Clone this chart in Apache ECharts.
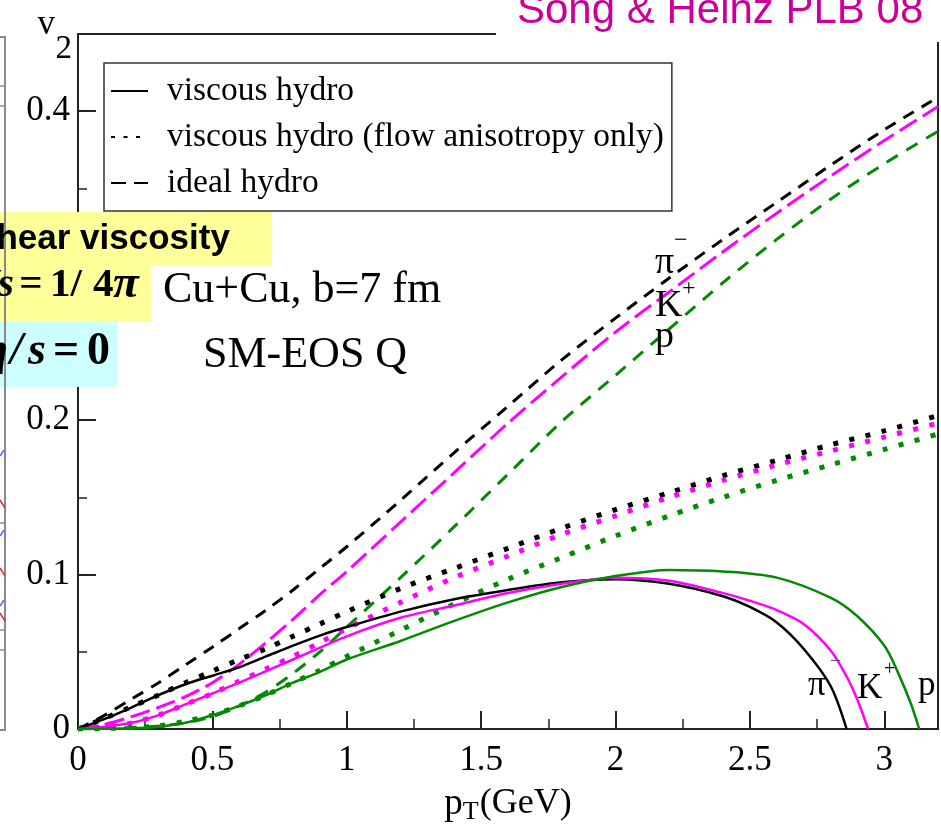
<!DOCTYPE html>
<html>
<head>
<meta charset="utf-8">
<script src="https://cdn.jsdelivr.net/npm/echarts@6/dist/echarts.min.js"></script>
<style>
  html, body { margin: 0; padding: 0; background: #fff; }
  #chart { width: 941px; height: 836px; }
</style>
</head>
<body>
<div id="chart"></div>
<script>
// Elliptic flow v2(pT) of identified hadrons, Cu+Cu at b = 7 fm, EOS Q.
// Three species (pi-, K+, p), each with ideal hydro, viscous hydro and
// viscous hydro keeping only the flow anisotropy.

// pT grid (GeV) shared by the ideal and flow-anisotropy-only curves
const ptGrid = [0, 0.1, 0.2, 0.3, 0.4, 0.5, 0.6, 0.7, 0.8, 0.9, 1.0, 1.2, 1.4, 1.6, 1.8, 2.0, 2.2, 2.4, 2.6, 2.8, 3.0, 3.2];

// ideal hydro
const idealPion   = [0, 0.009, 0.0195, 0.030, 0.0415, 0.053, 0.065, 0.077, 0.090, 0.104, 0.118, 0.148, 0.179, 0.209, 0.239, 0.266, 0.292, 0.317, 0.341, 0.365, 0.388, 0.409];
const idealKaon   = [0, 0.003, 0.008, 0.014, 0.021, 0.030, 0.042, 0.056, 0.071, 0.087, 0.102, 0.134, 0.166, 0.198, 0.228, 0.257, 0.283, 0.309, 0.334, 0.358, 0.381, 0.403];
const idealProton = [0, 0.0003, 0.001, 0.002, 0.004, 0.008, 0.015, 0.024, 0.036, 0.050, 0.066, 0.098, 0.131, 0.165, 0.199, 0.229, 0.259, 0.289, 0.317, 0.343, 0.366, 0.387];

// viscous hydro, flow anisotropy only
const flowPion   = [0, 0.007, 0.0145, 0.022, 0.030, 0.0375, 0.045, 0.052, 0.060, 0.068, 0.076, 0.091, 0.104, 0.117, 0.130, 0.142, 0.153, 0.164, 0.174, 0.184, 0.193, 0.203];
const flowKaon   = [0, 0.0015, 0.004, 0.009, 0.016, 0.023, 0.031, 0.039, 0.047, 0.056, 0.065, 0.082, 0.098, 0.112, 0.126, 0.138, 0.150, 0.161, 0.171, 0.180, 0.189, 0.198];
const flowProton = [0, 0.0003, 0.001, 0.002, 0.005, 0.009, 0.015, 0.022, 0.030, 0.038, 0.047, 0.064, 0.081, 0.097, 0.111, 0.125, 0.138, 0.150, 0.161, 0.171, 0.181, 0.191];

// full viscous hydro (each species on its own pT points, ending where v2 reaches zero)
const viscPionPt   = [0, 0.1, 0.2, 0.3, 0.4, 0.5, 0.6, 0.7, 0.8, 0.9, 1.0, 1.2, 1.4, 1.6, 1.8, 2.0, 2.2, 2.4, 2.5, 2.6, 2.7, 2.8, 2.86];
const viscPion     = [0, 0.0065, 0.014, 0.022, 0.029, 0.0345, 0.040, 0.047, 0.054, 0.0605, 0.066, 0.076, 0.084, 0.090, 0.095, 0.097, 0.094, 0.086, 0.079, 0.069, 0.052, 0.028, 0];
const viscKaonPt   = [0, 0.1, 0.2, 0.3, 0.4, 0.5, 0.6, 0.8, 1.0, 1.2, 1.4, 1.6, 1.8, 2.0, 2.2, 2.4, 2.5, 2.6, 2.7, 2.8, 2.86, 2.9, 2.94];
const viscKaon     = [0, 0.0015, 0.004, 0.009, 0.016, 0.023, 0.030, 0.045, 0.060, 0.072, 0.080, 0.088, 0.094, 0.098, 0.096, 0.088, 0.083, 0.077, 0.068, 0.051, 0.034, 0.019, 0];
const viscProtonPt = [0, 0.2, 0.3, 0.4, 0.5, 0.6, 0.7, 0.8, 0.9, 1.0, 1.2, 1.4, 1.6, 1.8, 2.0, 2.2, 2.4, 2.6, 2.8, 2.9, 3.0, 3.05, 3.1, 3.13];
const viscProton   = [0, 0.0005, 0.0015, 0.004, 0.009, 0.015, 0.022, 0.030, 0.037, 0.045, 0.057, 0.070, 0.082, 0.092, 0.099, 0.103, 0.102, 0.098, 0.085, 0.073, 0.054, 0.037, 0.016, 0];

// axis ranges and tick steps
const xRange = [0, 3.2];
const yRange = [0, 0.45];
const xMajor = 0.5, xMinor = 0.25;
const yMajor = 0.1, yMinor = 0.05;

const legendNames = ['viscous hydro', 'viscous hydro (flow anisotropy only)', 'ideal hydro'];

const BLACK = '#000000', MAGENTA = '#ff00ff', GREEN = '#008b00';
const SERIF = '"Liberation Serif", "Times New Roman", serif';
const SANS = '"Liberation Sans", Arial, sans-serif';

const pairs = (xs, ys) => xs.map((x, i) => [x, ys[i]]);

function curve(name, xs, ys, color, width, dash, z) {
  return {
    name: name,
    type: 'line',
    data: pairs(xs, ys),
    symbol: 'none',
    smooth: 0.3,
    silent: true,
    z: z,
    itemStyle: { color: color },
    lineStyle: { color: color, width: width, type: dash, cap: 'butt' }
  };
}

function legendEntry(name, width, dash) {
  return {
    name: name, type: 'line', data: [], symbol: 'none',
    itemStyle: { color: BLACK },
    lineStyle: { color: BLACK, width: width, type: dash, cap: 'butt' }
  };
}

const DOT = [5, 11.5];
const series = [
  legendEntry(legendNames[0], 2.5, 'solid'),
  legendEntry(legendNames[1], 4, [4, 8.5]),
  legendEntry(legendNames[2], 3, [15, 8]),
  curve('ideal pi-', ptGrid, idealPion, BLACK, 3, [12, 9], 2),
  curve('ideal K+', ptGrid, idealKaon, MAGENTA, 3, [20, 7], 2),
  curve('ideal p', ptGrid, idealProton, GREEN, 3, [13, 10], 2),
  curve('flow-only pi-', ptGrid, flowPion, BLACK, 5, DOT, 3),
  curve('flow-only K+', ptGrid, flowKaon, MAGENTA, 5, DOT, 3),
  curve('flow-only p', ptGrid, flowProton, GREEN, 5, DOT, 3),
  curve('viscous pi-', viscPionPt, viscPion, BLACK, 2.5, 'solid', 4),
  curve('viscous K+', viscKaonPt, viscKaon, MAGENTA, 2.5, 'solid', 4),
  curve('viscous p', viscProtonPt, viscProton, GREEN, 2.5, 'solid', 4)
];

// ---- overlay helpers ----
function text(x, y, str, font, opt) {
  opt = opt || {};
  return {
    type: 'text', x: x, y: y, z: opt.z || 100, silent: true,
    style: {
      text: str, font: font, fill: opt.fill || BLACK,
      align: opt.align || 'left', verticalAlign: opt.valign || 'middle'
    }
  };
}
function box(x, y, w, h, fill, z) {
  return { type: 'rect', z: z || 95, silent: true, shape: { x: x, y: y, width: w, height: h }, style: { fill: fill } };
}
function seg(x1, y1, x2, y2, stroke, w) {
  return { type: 'line', z: 96, silent: true, shape: { x1: x1, y1: y1, x2: x2, y2: y2 }, style: { stroke: stroke, lineWidth: w } };
}

const YELLOW = '#ffff99', CYAN = '#ccffff';
const fBI = (s) => 'italic bold ' + s + 'px ' + SERIF;
const fB = (s) => 'bold ' + s + 'px ' + SERIF;
const fR = (s) => s + 'px ' + SERIF;

const overlays = [
  // edge of the neighbouring panel on the left
  seg(5, 37, 5, 731, '#8a8a8a', 2),
  seg(0, 37, 6, 37, '#8a8a8a', 2),
  seg(0, 730, 6, 730, '#8a8a8a', 2),
  seg(0, 86, 5, 86, '#8a8a8a', 1.5),
  seg(0, 106, 5, 106, '#8a8a8a', 1.5),
  seg(0, 523, 5, 523, '#8a8a8a', 1.5),
  seg(0, 630, 5, 630, '#8a8a8a', 1.5),
  seg(0, 650, 5, 650, '#8a8a8a', 1.5),
  seg(0, 456, 4, 450, '#4466ff', 1.5),
  seg(0, 500, 5, 508, '#e03030', 1.5),
  seg(0, 536, 4, 530, '#4466ff', 1.5),
  seg(0, 568, 5, 576, '#e03030', 1.5),
  seg(0, 606, 4, 600, '#4466ff', 1.5),
  seg(0, 613, 5, 621, '#e03030', 1.5),

  // blank strip behind the reference tag at the top right
  box(496, 0, 445, 42, '#ffffff', 90),

  // shear viscosity boxes
  box(-1, 212, 273, 53, YELLOW),
  box(-1, 265, 152, 57, YELLOW),
  box(-1, 322, 118, 65, CYAN),
  text(-23, 239, 'shear viscosity', 'bold 35px ' + SANS),
  text(14, 285, 'η/s', fBI(41), { align: 'right' }),
  text(31, 285, '=', fB(41), { align: 'center' }),
  text(50, 285, '1/', fB(41)),
  text(93, 285, '4', fB(41)),
  text(113, 285, 'π', fBI(47)),
  text(8, 352, 'η', fBI(46), { align: 'right' }),
  text(10, 352, '/', fBI(46)),
  text(28, 352, 's', fBI(46)),
  text(53, 352, '=', fB(46)),
  text(87, 352, '0', fB(46)),

  // collision system
  text(163, 290, 'Cu+Cu, b=7 fm', fR(44)),
  text(203, 355, 'SM-EOS Q', fR(44)),

  // species tags for the ideal curves
  text(655, 263, 'π', fR(38)),
  text(674, 241, '−', fR(24)),
  text(655, 306, 'K', fR(38)),
  text(682, 289, '+', fR(24)),
  text(655, 337, 'p', fR(38)),

  // species tags for the viscous curves
  text(808, 686, 'π', fR(35)),
  text(830, 662, '−', fR(20), { fill: '#555' }),
  text(857, 689, 'K', fR(35)),
  text(884, 670, '+', fR(20)),
  text(918, 686, 'p', fR(35))
];

const axisFont = { fontFamily: SERIF, fontSize: 35, color: BLACK };
const lineSty = { color: '#222', width: 2 };

const option = {
  animation: false,
  backgroundColor: '#fff',
  title: {
    text: 'Song & Heinz PLB 08',
    left: 517, top: -10, padding: 0, z: 200,
    textStyle: { color: '#cc0099', fontFamily: SANS, fontSize: 42, fontWeight: 'normal', lineHeight: 42 }
  },
  grid: {
    left: 78, right: 3, top: 34, bottom: 107,
    show: true, borderColor: '#222', borderWidth: 2, backgroundColor: 'transparent'
  },
  legend: {
    data: legendNames,
    orient: 'vertical', left: 104, top: 63,
    padding: [10, 8, 10, 6],
    itemGap: 10, itemWidth: 37, itemHeight: 36,
    selectedMode: false,
    backgroundColor: '#fff', borderColor: '#333', borderWidth: 1.5, borderRadius: 0,
    itemStyle: { opacity: 0 },
    textStyle: { fontFamily: SERIF, fontSize: 33.5, color: BLACK, lineHeight: 36, padding: [0, 0, 0, 14] },
    z: 20
  },
  xAxis: [
    {
      type: 'value', min: xRange[0], max: xRange[1], interval: xMajor,
      name: '{p|p}{s|T}{t|(GeV)}', nameLocation: 'middle', nameGap: 50,
      nameTextStyle: {
        rich: {
          p: { fontFamily: SERIF, fontSize: 37, color: BLACK, lineHeight: 40 },
          s: { fontFamily: SERIF, fontSize: 26, color: BLACK, lineHeight: 26, padding: [16, 1, 0, 0] },
          t: { fontFamily: SERIF, fontSize: 36, color: BLACK, lineHeight: 40 }
        }
      },
      axisLine: { show: true, lineStyle: lineSty },
      axisTick: { show: true, inside: true, length: 18, lineStyle: { color: '#222', width: 2 } },
      axisLabel: Object.assign({ margin: 14, showMaxLabel: false }, axisFont),
      splitLine: { show: false }
    },
    {
      // minor ticks
      type: 'value', min: xRange[0], max: xRange[1], interval: xMinor, position: 'bottom',
      axisLine: { show: false },
      axisTick: { show: true, inside: true, length: 10, lineStyle: { color: '#222', width: 1.5 } },
      axisLabel: { show: false }, splitLine: { show: false }
    }
  ],
  yAxis: [
    {
      type: 'value', min: yRange[0], max: yRange[1], interval: yMajor,
      name: '{v|v}\n{s|2}', nameLocation: 'end', nameGap: -7,
      nameTextStyle: {
        align: 'right', verticalAlign: 'middle', padding: [0, 6, 0, 0],
        rich: {
          v: { fontFamily: SERIF, fontSize: 35, color: BLACK, lineHeight: 16, padding: [0, 17, 0, 0] },
          s: { fontFamily: SERIF, fontSize: 33, color: BLACK, lineHeight: 33 }
        }
      },
      axisLine: { show: true, lineStyle: lineSty },
      axisTick: { show: true, inside: true, length: 18, lineStyle: { color: '#222', width: 2 } },
      axisLabel: Object.assign({ margin: 8, showMaxLabel: false }, axisFont),
      splitLine: { show: false }
    },
    {
      // minor ticks
      type: 'value', min: yRange[0], max: yRange[1], interval: yMinor, position: 'left',
      axisLine: { show: false },
      axisTick: { show: true, inside: true, length: 9, lineStyle: { color: '#222', width: 1.5 } },
      axisLabel: { show: false }, splitLine: { show: false }
    }
  ],
  series: series,
  graphic: { elements: overlays }
};

const chart = echarts.init(document.getElementById('chart'), null, { renderer: 'canvas' });
chart.setOption(option);
</script>
</body>
</html>
